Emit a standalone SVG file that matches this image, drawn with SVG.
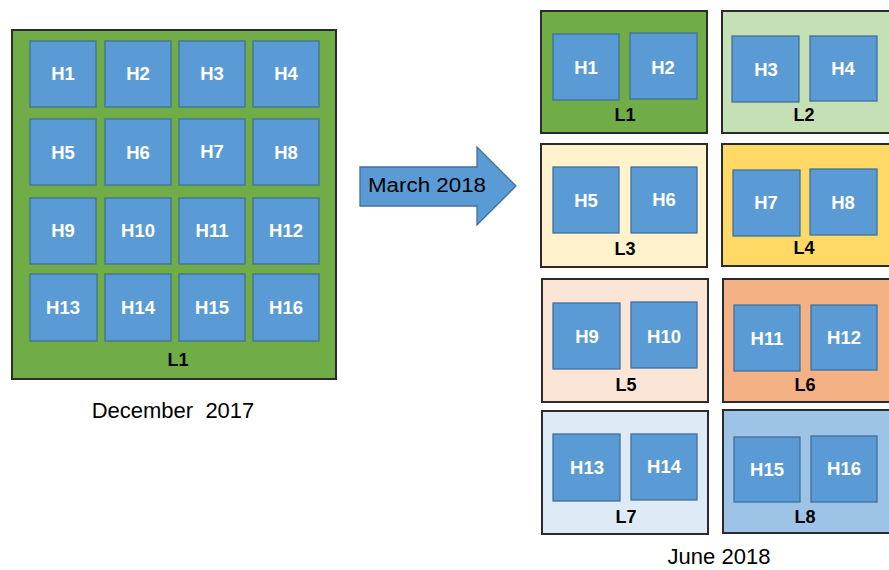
<svg xmlns="http://www.w3.org/2000/svg" width="889" height="570" viewBox="0 0 889 570">
<style>
.panel{stroke:#2b2b2b;stroke-width:2}
.h{fill:#5B9BD5;stroke:#41719C;stroke-width:1.3}
.ht{font-family:"Liberation Sans",Arial,sans-serif;font-weight:bold;font-size:18.5px;fill:#fff;text-anchor:middle}
.lt{font-family:"Liberation Sans",Arial,sans-serif;font-weight:bold;font-size:18px;fill:#000;text-anchor:middle}
.cap{font-family:"Liberation Sans",Arial,sans-serif;font-size:22px;fill:#000;text-anchor:middle}
</style>
<rect width="889" height="570" fill="#fff"/>
<!-- Left: December 2017 -->
<g id="dec-L1">
<rect class="panel" x="12" y="30" width="324" height="349" fill="#70AD47"/>
<text class="lt" x="178" y="366">L1</text>
</g>
<g id="dec-H1"><rect class="h" x="30" y="41" width="66" height="66"/><text class="ht" x="63" y="80">H1</text></g>
<g id="dec-H2"><rect class="h" x="105" y="41" width="66" height="66"/><text class="ht" x="138" y="80">H2</text></g>
<g id="dec-H3"><rect class="h" x="179" y="41" width="66" height="66"/><text class="ht" x="212" y="80">H3</text></g>
<g id="dec-H4"><rect class="h" x="253" y="41" width="66" height="66"/><text class="ht" x="286" y="80">H4</text></g>
<g id="dec-H5"><rect class="h" x="30" y="119" width="66" height="66"/><text class="ht" x="63" y="159">H5</text></g>
<g id="dec-H6"><rect class="h" x="105" y="119" width="66" height="66"/><text class="ht" x="138" y="159">H6</text></g>
<g id="dec-H7"><rect class="h" x="179" y="119" width="66" height="66"/><text class="ht" x="212" y="158">H7</text></g>
<g id="dec-H8"><rect class="h" x="253" y="119" width="66" height="66"/><text class="ht" x="286" y="159">H8</text></g>
<g id="dec-H9"><rect class="h" x="30" y="198" width="66" height="66"/><text class="ht" x="63" y="237">H9</text></g>
<g id="dec-H10"><rect class="h" x="105" y="198" width="66" height="66"/><text class="ht" x="138" y="237">H10</text></g>
<g id="dec-H11"><rect class="h" x="179" y="198" width="66" height="66"/><text class="ht" x="212" y="237">H11</text></g>
<g id="dec-H12"><rect class="h" x="253" y="198" width="66" height="66"/><text class="ht" x="286" y="237">H12</text></g>
<g id="dec-H13"><rect class="h" x="30" y="274" width="67" height="67"/><text class="ht" x="63" y="314">H13</text></g>
<g id="dec-H14"><rect class="h" x="105" y="274" width="66" height="67"/><text class="ht" x="138" y="314">H14</text></g>
<g id="dec-H15"><rect class="h" x="179" y="274" width="66" height="67"/><text class="ht" x="212" y="314">H15</text></g>
<g id="dec-H16"><rect class="h" x="253" y="274" width="66" height="67"/><text class="ht" x="286" y="314">H16</text></g>
<text class="cap" x="173" y="418" xml:space="preserve">December  2017</text>

<!-- Arrow -->
<g id="connectors">
<polygon points="360,167 477,167 477,147 516,186 477,225 477,206 360,206" fill="#5B9BD5" stroke="#41719C" stroke-width="1.3"/>
<text x="368" y="192" font-family="Liberation Sans,Arial,sans-serif" font-size="20" fill="#000" textLength="118" lengthAdjust="spacingAndGlyphs">March 2018</text>
</g>

<!-- Right: June 2018 -->
<g id="jun-L1"><rect class="panel" x="541" y="11" width="166" height="122" fill="#70AD47"/><text class="lt" x="625" y="121">L1</text></g>
<g id="jun-L2"><rect class="panel" x="722" y="11" width="170" height="122" fill="#C5E0B4"/><text class="lt" x="804" y="121">L2</text></g>
<g id="jun-L3"><rect class="panel" x="541" y="144" width="166" height="123" fill="#FFF2CC"/><text class="lt" x="625" y="255">L3</text></g>
<g id="jun-L4"><rect class="panel" x="722" y="144" width="170" height="122" fill="#FFD966"/><text class="lt" x="804" y="254">L4</text></g>
<g id="jun-L5"><rect class="panel" x="542" y="279" width="166" height="123" fill="#FBE5D6"/><text class="lt" x="626" y="391">L5</text></g>
<g id="jun-L6"><rect class="panel" x="723" y="279" width="170" height="123" fill="#F4B183"/><text class="lt" x="805" y="391">L6</text></g>
<g id="jun-L7"><rect class="panel" x="542" y="411" width="166" height="123" fill="#DEEBF7"/><text class="lt" x="626" y="523">L7</text></g>
<g id="jun-L8"><rect class="panel" x="723" y="410" width="170" height="123" fill="#9DC3E6"/><text class="lt" x="805" y="523">L8</text></g>

<g id="jun-H1"><rect class="h" x="553" y="34" width="66" height="66"/><text class="ht" x="586" y="74">H1</text></g>
<g id="jun-H2"><rect class="h" x="630" y="33" width="67" height="66"/><text class="ht" x="663" y="74">H2</text></g>
<g id="jun-H3"><rect class="h" x="732" y="36" width="67" height="66"/><text class="ht" x="766" y="76">H3</text></g>
<g id="jun-H4"><rect class="h" x="810" y="36" width="67" height="65"/><text class="ht" x="843" y="75">H4</text></g>
<g id="jun-H5"><rect class="h" x="553" y="167" width="66" height="66"/><text class="ht" x="586" y="207">H5</text></g>
<g id="jun-H6"><rect class="h" x="631" y="167" width="66" height="66"/><text class="ht" x="664" y="206">H6</text></g>
<g id="jun-H7"><rect class="h" x="733" y="170" width="67" height="66"/><text class="ht" x="766" y="209">H7</text></g>
<g id="jun-H8"><rect class="h" x="810" y="169" width="67" height="66"/><text class="ht" x="843" y="209">H8</text></g>
<g id="jun-H9"><rect class="h" x="553" y="303" width="67" height="66"/><text class="ht" x="587" y="343">H9</text></g>
<g id="jun-H10"><rect class="h" x="631" y="302" width="66" height="66"/><text class="ht" x="664" y="343">H10</text></g>
<g id="jun-H11"><rect class="h" x="734" y="305" width="66" height="66"/><text class="ht" x="767" y="345">H11</text></g>
<g id="jun-H12"><rect class="h" x="811" y="305" width="66" height="65"/><text class="ht" x="844" y="344">H12</text></g>
<g id="jun-H13"><rect class="h" x="553" y="434" width="67" height="67"/><text class="ht" x="587" y="474">H13</text></g>
<g id="jun-H14"><rect class="h" x="631" y="434" width="66" height="66"/><text class="ht" x="664" y="473">H14</text></g>
<g id="jun-H15"><rect class="h" x="734" y="437" width="66" height="65"/><text class="ht" x="767" y="476">H15</text></g>
<g id="jun-H16"><rect class="h" x="811" y="436" width="66" height="66"/><text class="ht" x="844" y="475">H16</text></g>
<text class="cap" x="719" y="564">June 2018</text>
</svg>
